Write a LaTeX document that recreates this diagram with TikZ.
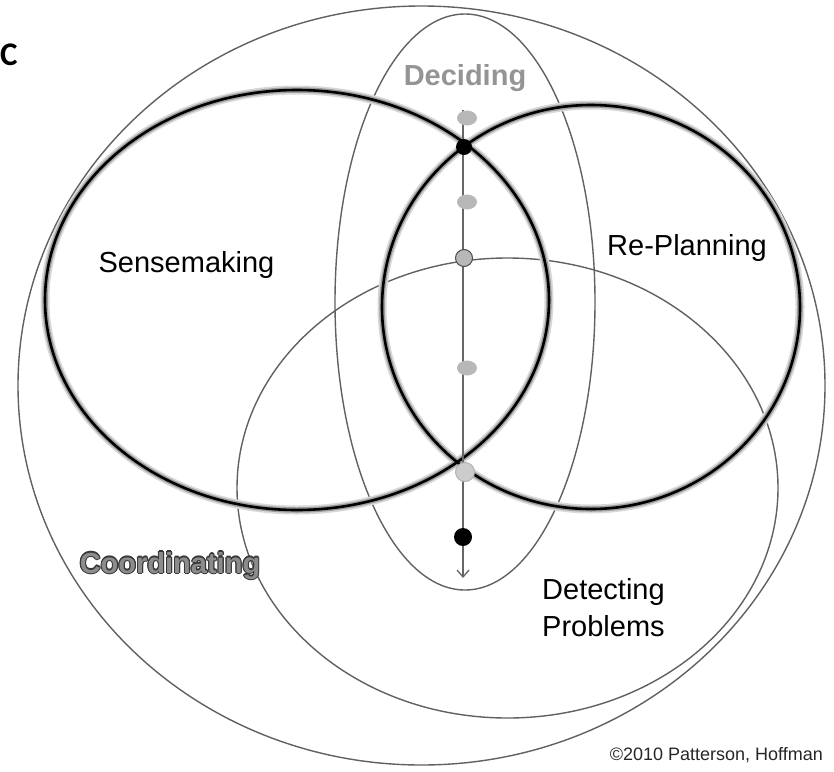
\documentclass[tikz,border=0pt]{standalone}
\usepackage{fontspec}
\setmainfont{Liberation Sans}
\newfontfamily\panelfont{Carlito}
\usetikzlibrary{shapes.geometric, arrows.meta}

\tikzset{
  thinring/.style={draw=black!62, line width=1.4pt},
  haloring/.style={draw=black!15, line width=9pt},
  glowring/.style={draw=black!38, line width=5.5pt},
  thickring/.style={draw=black, line width=2.6pt},
  lbl/.style={font=\fontsize{29}{37}\selectfont, inner sep=0pt},
  boldlbl/.style={lbl, font=\bfseries\fontsize{29}{37}\selectfont},
  graydot/.style={ellipse, fill=black!28, minimum width=20pt, minimum height=15pt, inner sep=0pt},
  blackdot/.style={circle, fill=black, minimum size=16pt, inner sep=0pt},
  ringdot/.style={circle, fill=black!28, draw=black!70, line width=1pt, minimum size=17pt, inner sep=0pt},
}

\begin{document}
\begin{tikzpicture}[x=1pt,y=-1pt]
    \useasboundingbox (0,0) rectangle (834,771);

    \coordinate (coordinating) at (421.5,385.5);
    \coordinate (deciding)     at (465,302);
    \coordinate (detecting)    at (507.5,488);
    \coordinate (sensemaking)  at (297,300);
    \coordinate (replanning)   at (591,307);

    % thin rings
    \draw[thinring] (coordinating) ellipse [x radius=403.5, y radius=379.5];
    \draw[thinring] (deciding) ellipse [x radius=130, y radius=288];
    \draw[thinring] (detecting) ellipse [x radius=270.5, y radius=230];

    % thick rings with a grey halo
    \foreach \s in {haloring, glowring, thickring} {
        \draw[\s] (sensemaking) ellipse [x radius=252, y radius=210];
        \draw[\s] (replanning) ellipse [x radius=209, y radius=202];
    }

    % time line through the deciding ring
    \coordinate (start) at (463,110);
    \coordinate (end)   at (463,578);
    \draw[black!60, line width=1.3pt, -{Straight Barb[length=7pt, width=12pt]}] (start) -- (end);

    \node[graydot]  (d1) at (467,118) {};
    \node[blackdot] (d2) at (464,147) {};
    \node[graydot]  (d3) at (467,202) {};
    \node[ringdot]  (d4) at (464,258) {};
    \node[graydot]  (d5) at (467,368) {};
    \node[ringdot, fill=black!20, draw=black!30, minimum size=19pt] (d6) at (465,472) {};
    \node[blackdot, minimum size=18pt] (d7) at (463,537) {};

    % labels
    \node[lbl, anchor=base west, font=\panelfont\bfseries\fontsize{33}{36}\selectfont] (panel) at (0,65) {C};
    \node[boldlbl, anchor=base, text=black!42] (decidinglbl) at (465,85) {Deciding};
    \node[lbl, anchor=base] (sensemakinglbl) at (186.5,272) {Sensemaking};
    \node[lbl, anchor=base] (replanninglbl) at (687,255) {Re-Planning};
    \node[lbl, anchor=north west, align=left] (detectinglbl) at (542,578) {Detecting\\Problems};
    % outlined text: dark copies round a lighter one
    \foreach \a in {0,30,...,330}
        \node[boldlbl, anchor=base, text=black!78, xshift={1.1pt*cos(\a)}, yshift={1.1pt*sin(\a)}]
            (coordedge\a) at (170,573) {Coordinating};
    \node[boldlbl, anchor=base, text=black!45] (coordinatinglbl) at (170,573) {Coordinating};
    \node[lbl, anchor=base east, font=\fontsize{18}{20}\selectfont, text=black!85] (copyright) at (823,760) {\textcopyright2010 Patterson, Hoffman};
\end{tikzpicture}
\end{document}
